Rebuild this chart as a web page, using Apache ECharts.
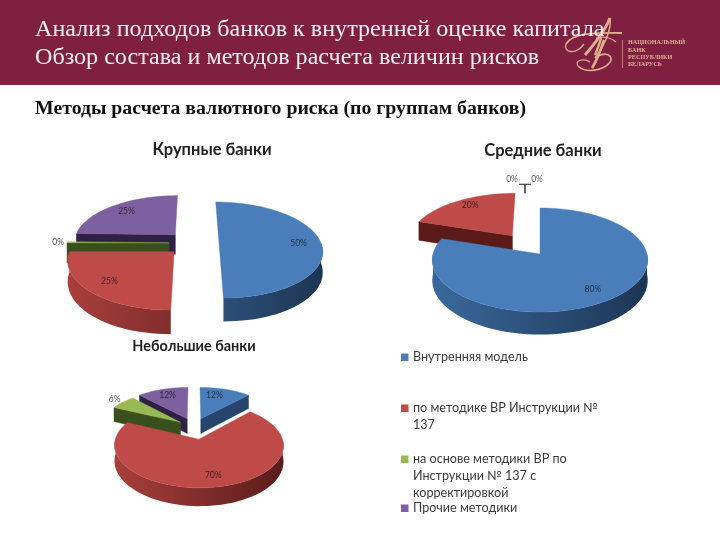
<!DOCTYPE html>
<html><head><meta charset="utf-8">
<style>html,body{margin:0;padding:0;background:#fff}#c{width:720px;height:540px}</style>
<script src="https://cdn.jsdelivr.net/npm/echarts@6/dist/echarts.min.js"></script>
</head><body><div id="c"></div>
<script>
// ---------- data ----------
const categories = ['Внутренняя модель','по методике ВР Инструкции №\n137','на основе методики ВР по\nИнструкции № 137 с\nкорректировкой','Прочие методики'];
const pieNames = ['Крупные банки','Средние банки','Небольшие банки'];
const largeBanks  = [50, 25, 0.4, 24.6];
const mediumBanks = [80, 20, 0, 0];
const smallBanks  = [12, 70, 6, 12];
const headerLines = ['Анализ подходов банков к внутренней оценке капитала','Обзор состава и методов расчета величин рисков'];
const subtitle = 'Методы расчета валютного риска (по группам банков)';
const logoLines = ['НАЦИОНАЛЬНЫЙ','БАНК','РЕСПУБЛИКИ','БЕЛАРУСЬ'];

// ---------- look ----------
const topColor  = ['#4a7ebb','#be4b48','#98b954','#7d60a0'];
const wallLeft  = ['#3a689c','#a83f3c','#56702a','#4a3768'];
const wallRight = ['#1d3554','#5a1c1b','#3a4d1c','#2e2145'];
const cutColor  = ['#26456c','#5a1a17','#3a4f1e','#2e2145'];
const layouts = [
  {cx:193,cy:243,R:102,kR:47,p:.146,depth:20,start:0,explode:[26,26,24,26],labelR:[.78,.78,1.09,.78],labelDx:[0,0,0,0],labelDy:[0,0,0,0]},
  {cx:540,cy:254,R:107,kR:51.3,p:.115,depth:20,start:0,explode:[0,49,0,0],labelR:[.78,.78,1.75,1.75],labelDx:[0,0,-28,-3],labelDy:[0,-3,0,0],tee:true},
  {cx:194,cy:427,R:80,kR:38,p:.14,depth:15,start:0,explode:[19,25,17,19],labelR:[.78,.78,1.15,.78],labelDx:[-6,0,0,0],labelDy:[0,0,0,0]}
];
function hex(c){return [1,3,5].map(i=>parseInt(c.substr(i,2),16));}
function mix(a,b,t){const x=hex(a),y=hex(b);t=Math.max(0,Math.min(1,t));return 'rgb('+x.map((v,i)=>Math.round(v+(y[i]-v)*t)).join(',')+')';}

function pieSeries(values, L, name){
  const total = values.reduce((a,b)=>a+b,0);
  const proj = (u,v,dz)=>{const s=1/(1-L.p*v);return [L.cx+u*L.R*s, L.cy+L.kR*v*s+(dz?dz*s:0)];};
  return {
    type:'custom', name, coordinateSystem:'none', silent:true, animation:false, clip:false,
    data: values,
    renderItem(params, api){
      const i=params.dataIndex;
      let cum=0; for(let j=0;j<i;j++) cum+=values[j];
      const a0=L.start+cum/total*360, a1=L.start+(cum+values[i])/total*360, mid=(a0+a1)/2;
      const rad=d=>d*Math.PI/180;
      const e=L.explode[i]/L.R, ox=Math.sin(rad(mid))*e, oy=-Math.cos(rad(mid))*e;
      const children=[];
      const z=100+Math.round(((oy+(-Math.cos(rad(mid)))*.5)+2)*40);
      if(values[i]>0){
        const pts=[{u:ox,v:oy,arc:false}];
        const n=Math.max(2,Math.ceil((a1-a0)/3));
        for(let k=0;k<=n;k++){const a=rad(a0+(a1-a0)*k/n);pts.push({u:ox+Math.sin(a),v:oy-Math.cos(a),arc:k>0,su:Math.sin(a)});}
        const top=pts.map(q=>proj(q.u,q.v,0));
        let run=[];
        const flush=()=>{
          if(run.length<2) {run=[];return;}
          const up=run.map(q=>proj(q.u,q.v,0)), down=run.map(q=>proj(q.u,q.v,L.depth)).reverse();
          const xs=run.map(q=>q.su), t0=(1+Math.min(...xs))/2, t1=(1+Math.max(...xs))/2;
          children.push({type:'polygon',z2:z,shape:{points:up.concat(down)},style:{fill:new echarts.graphic.LinearGradient(0,0,1,0,[
            {offset:0,color:mix(wallLeft[i],wallRight[i],t0)},{offset:1,color:mix(wallLeft[i],wallRight[i],t1)}])}});
          run=[];
        };
        for(let k=0;k<pts.length;k++){
          const m=(k+1)%pts.length, A=pts[k],B=pts[m],a=top[k],b=top[m];
          const visible=(B.u-A.u)<-1e-6;   // outward normal faces the viewer
          const isArc=B.arc&&k>0;
          if(isArc&&visible){ if(!run.length) run.push(A); run.push(B); }
          else { flush();
            if(visible&&!isArc) children.push({type:'polygon',z2:z,shape:{points:[a,b,proj(B.u,B.v,L.depth),proj(A.u,A.v,L.depth)]},style:{fill:cutColor[i],stroke:cutColor[i],lineWidth:.5}});
          }
        }
        flush();
        children.push({type:'polygon',z2:z+1,shape:{points:top},style:{fill:topColor[i],stroke:topColor[i],lineWidth:.4}});
      }
      const r=L.labelR[i], lu=ox+Math.sin(rad(mid))*r, lv=oy-Math.cos(rad(mid))*r, lp=proj(lu,lv,0);
      const lx=lp[0]+L.labelDx[i], ly=lp[1]+L.labelDy[i];
      children.push({type:'text',z2:400,style:{text:Math.round(values[i]/total*100)+'%',x:lx,y:ly,align:'center',verticalAlign:'middle',fill:'#111',opacity:.72,font:'8.5px Lato'}});
      if(L.tee && i===2){
        const tx=lx+13, ty=ly+5;
        children.push({type:'line',z2:400,shape:{x1:tx-6,y1:ty,x2:tx+6,y2:ty},style:{stroke:'#222',lineWidth:1}});
        children.push({type:'line',z2:400,shape:{x1:tx,y1:ty,x2:tx,y2:ty+9},style:{stroke:'#222',lineWidth:1.4}});
      }
      return {type:'group',children};
    }
  };
}

// header + legend
const gfx=[
  {type:'rect',shape:{x:0,y:0,width:720,height:85},style:{fill:'#802040'},z:0},
  {type:'text',z:3,style:{text:headerLines[0],x:35,y:30,font:'24.1px "Liberation Serif"',fill:'#f8eeee',verticalAlign:'middle'}},
  {type:'text',z:3,style:{text:headerLines[1],x:35,y:58,font:'24.1px "Liberation Serif"',fill:'#f8eeee',verticalAlign:'middle'}},
  {type:'text',z:3,style:{text:subtitle,x:35,y:109,font:'bold 19.8px "Liberation Serif"',fill:'#111',verticalAlign:'middle'}},
  {type:'line',z:1,shape:{x1:622.5,y1:40,x2:622.5,y2:68},style:{stroke:'#d9a983',lineWidth:.7}}
];
// monogram strokes: [x1,y1, cx1,cy1, cx2,cy2, x2,y2, width]
const logoStrokes=[
  [585,55, 598,40, 606,28, 610,18, 3],
  [610,18, 612,30, 603,48, 595,58, 1.6],
  [595,55, 598,48, 600,42, 601,38, 2.4],
  [566,44, 572,34, 590,32, 622,33, 1.8],
  [566,44, 563,52, 575,56, 584,44, 1.3],
  [604,40, 600,52, 596,62, 592,68, 2.6],
  [598,56, 610,50, 616,60, 606,66, 1.6],
  [606,66, 596,72, 584,72, 578,66, 1.5],
  [578,66, 574,60, 584,58, 590,62, 1.2],
  [596,38, 604,36, 612,38, 616,42, 1.2]
];
logoStrokes.forEach(s=>gfx.push({type:'bezierCurve',z:1,shape:{x1:s[0],y1:s[1],cpx1:s[2],cpy1:s[3],cpx2:s[4],cpy2:s[5],x2:s[6],y2:s[7]},style:{stroke:'#dcaf8c',fill:'none',lineWidth:s[8]}}));
[42,50,57,64].forEach((y,i)=>gfx.push({type:'text',z:2,style:{text:logoLines[i],x:628,y,font:'bold 6.2px "Liberation Serif"',fill:'#e0b090',verticalAlign:'middle'}}));
const legendLine=[357,408,459,508];
categories.forEach((c,i)=>{
  gfx.push({type:'rect',shape:{x:401,y:legendLine[i]-3.5,width:7.5,height:7.5},style:{fill:topColor[i]},z:2});
  gfx.push({type:'text',z:2,style:{text:c,x:413,y:legendLine[i]-8,font:'12.6px Lato',fill:'#3a3a3a',lineHeight:16.7,verticalAlign:'top'}});
});

echarts.init(document.getElementById('c'),null,{renderer:'canvas'}).setOption({
  animation:false,
  backgroundColor:'#fff',
  title:[[212,141,16.5],[543,142,16.5],[194,339,14.5]].map((p,i)=>({text:pieNames[i],left:p[0],top:p[1],textAlign:'center',padding:0,textStyle:{fontFamily:'Lato',fontWeight:'bold',fontSize:p[2],color:'#222'}})),
  graphic:gfx,
  series:[pieSeries(largeBanks,layouts[0],pieNames[0]),pieSeries(mediumBanks,layouts[1],pieNames[1]),pieSeries(smallBanks,layouts[2],pieNames[2])]
});
</script></body></html>
